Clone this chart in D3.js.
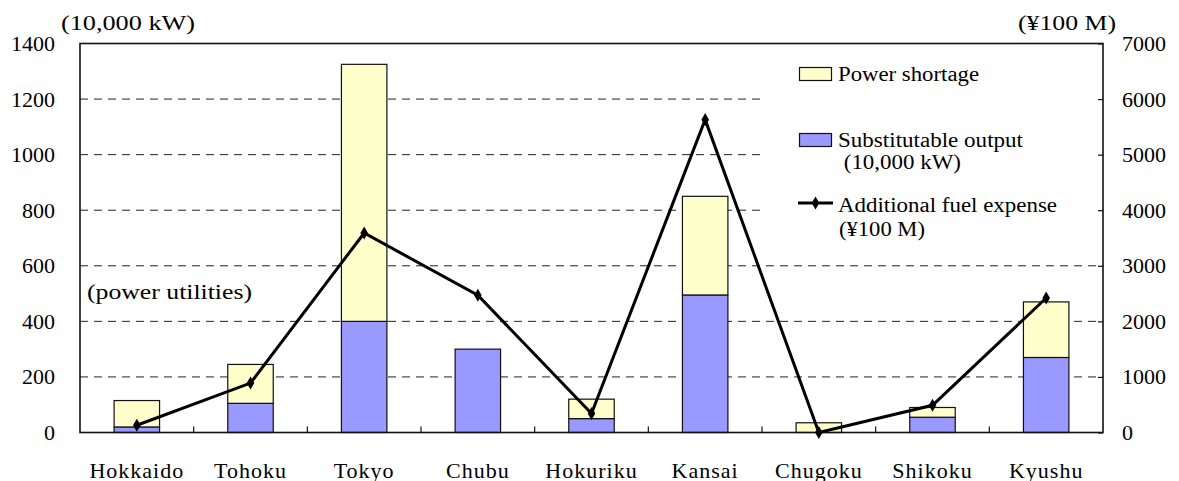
<!DOCTYPE html>
<html>
<head>
<meta charset="utf-8">
<script src="https://cdn.jsdelivr.net/npm/d3@7"></script>
<style>
  html, body { margin: 0; padding: 0; background: #fff; }
  svg text { font-family: "Liberation Serif", "Times New Roman", serif; fill: #000; }
</style>
</head>
<body>
<svg id="chart" width="1179" height="481"></svg>
<script>
// Regional utilities
const categories = ["Hokkaido", "Tohoku", "Tokyo", "Chubu", "Hokuriku", "Kansai", "Chugoku", "Shikoku", "Kyushu"];
// Substitutable output (10,000 kW)
const substitutable = [20, 105, 400, 300, 50, 495, 0, 55, 270];
// Power shortage (10,000 kW), stacked on top of substitutable output
const shortage = [95, 140, 925, 0, 70, 355, 35, 35, 200];
// Additional fuel expense (¥100 M)
const fuelExpense = [130, 890, 3590, 2470, 340, 5630, 0, 490, 2420];

const leftTicks = [0, 200, 400, 600, 800, 1000, 1200, 1400];
const rightTicks = [0, 1000, 2000, 3000, 4000, 5000, 6000, 7000];

const leftUnit = "(10,000 kW)";
const rightUnit = "(¥100 M)";
const noteText = "(power utilities)";
const legendShortage = "Power shortage";
const legendSubst = ["Substitutable output", " (10,000 kW)"];
const legendFuel = ["Additional fuel expense", "(¥100 M)"];

const colors = { shortage: "#FFFFCC", subst: "#9999FF" };
const serif = "'Liberation Serif', 'Times New Roman', serif";

const svg = d3.select("#chart");
const plot = { left: 80, right: 1103, top: 43.5, bottom: 432.5 };

const x = d3.scaleBand()
  .domain(categories)
  .range([plot.left, plot.right])
  .paddingInner(0.6)
  .paddingOuter(0.3);

const yL = d3.scaleLinear().domain([0, 1400]).range([plot.bottom, plot.top]);
const yR = d3.scaleLinear().domain([0, 7000]).range([plot.bottom, plot.top]);

// Dashed gridlines at the left-axis ticks
svg.append("g")
  .selectAll("line")
  .data(leftTicks.filter(t => t > 0 && t < 1400))
  .join("line")
  .attr("x1", plot.left)
  .attr("x2", plot.right)
  .attr("y1", d => yL(d))
  .attr("y2", d => yL(d))
  .attr("stroke", "#222")
  .attr("stroke-width", 1)
  .attr("stroke-dasharray", "8,6");

// Legend backdrop hides the gridlines behind it
svg.append("rect")
  .attr("x", 760).attr("y", 52)
  .attr("width", plot.right - 762).attr("height", 198)
  .attr("fill", "#fff");

// Stacked bars
const rows = categories.map((c, i) => ({ c, s: substitutable[i], p: shortage[i] }));
const bars = svg.append("g");
bars.selectAll("rect.subst")
  .data(rows.filter(d => d.s > 0))
  .join("rect")
  .attr("class", "subst")
  .attr("x", d => x(d.c))
  .attr("width", x.bandwidth())
  .attr("y", d => yL(d.s))
  .attr("height", d => yL(0) - yL(d.s))
  .attr("fill", colors.subst)
  .attr("stroke", "#111")
  .attr("stroke-width", 1.2);
bars.selectAll("rect.short")
  .data(rows.filter(d => d.p > 0))
  .join("rect")
  .attr("class", "short")
  .attr("x", d => x(d.c))
  .attr("width", x.bandwidth())
  .attr("y", d => yL(d.s + d.p))
  .attr("height", d => yL(d.s) - yL(d.s + d.p))
  .attr("fill", colors.shortage)
  .attr("stroke", "#111")
  .attr("stroke-width", 1.2);

// Plot frame
svg.append("rect")
  .attr("x", plot.left).attr("y", plot.top)
  .attr("width", plot.right - plot.left).attr("height", plot.bottom - plot.top)
  .attr("fill", "none")
  .attr("stroke", "#111")
  .attr("stroke-width", 1.6);

// Left axis labels
const axisL = d3.axisLeft(yL).tickValues(leftTicks).tickFormat(d3.format("d")).tickSize(0).tickPadding(25);
const gL = svg.append("g").attr("transform", `translate(${plot.left},0)`).call(axisL);
gL.attr("font-family", serif);
gL.select(".domain").remove();
gL.selectAll("text").attr("font-size", 22).style("font-family", serif);

// Right axis with inward ticks
const axisR = d3.axisRight(yR).tickValues(rightTicks).tickFormat(d3.format("d")).tickSize(-5).tickPadding(19);
const gR = svg.append("g").attr("transform", `translate(${plot.right},0)`).call(axisR);
gR.attr("font-family", serif);
gR.select(".domain").remove();
gR.selectAll("line").attr("stroke", "#111").attr("stroke-width", 1.2);
gR.selectAll("text").attr("font-size", 22).style("font-family", serif);

// Category separators on the x axis (inward ticks)
const bounds = d3.range(1, categories.length).map(i => plot.left + i * x.step());
svg.append("g").selectAll("line")
  .data(bounds)
  .join("line")
  .attr("x1", d => d).attr("x2", d => d)
  .attr("y1", plot.bottom).attr("y2", plot.bottom - 6)
  .attr("stroke", "#111").attr("stroke-width", 1.2);

// Category labels
const axisB = d3.axisBottom(x).tickSize(0).tickPadding(30);
const gB = svg.append("g").attr("transform", `translate(0,${plot.bottom})`).call(axisB);
gB.attr("font-family", serif);
gB.select(".domain").remove();
gB.selectAll("text")
  .attr("font-size", 22)
  .attr("letter-spacing", 1)
  .style("font-family", serif);

// Fuel expense line with diamond markers
const line = d3.line()
  .x((d, i) => x(categories[i]) + x.bandwidth() / 2)
  .y(d => yR(d));
svg.append("path")
  .datum(fuelExpense)
  .attr("d", line)
  .attr("fill", "none")
  .attr("stroke", "#000")
  .attr("stroke-width", 3)
  .attr("stroke-linejoin", "miter");
const diamond = d3.symbol().type(d3.symbolDiamond).size(50);
svg.append("g").selectAll("path")
  .data(fuelExpense)
  .join("path")
  .attr("d", diamond)
  .attr("transform", (d, i) => `translate(${x(categories[i]) + x.bandwidth() / 2},${yR(d)})`)
  .attr("fill", "#000");

// Unit labels
svg.append("text").attr("x", 61).attr("y", 30).attr("font-size", 22)
  .attr("textLength", 134).attr("lengthAdjust", "spacingAndGlyphs").text(leftUnit);
svg.append("text").attr("x", 1018).attr("y", 30).attr("font-size", 22)
  .attr("textLength", 98).attr("lengthAdjust", "spacingAndGlyphs").text(rightUnit);

// Note inside the plot
svg.append("text").attr("x", 87).attr("y", 299).attr("font-size", 22)
  .attr("textLength", 165).attr("lengthAdjust", "spacingAndGlyphs").text(noteText);

// Legend
const lg = svg.append("g");
lg.append("rect").attr("x", 799.5).attr("y", 67.5).attr("width", 32).attr("height", 13)
  .attr("fill", colors.shortage).attr("stroke", "#111").attr("stroke-width", 1.2);
lg.append("text").attr("x", 838).attr("y", 81).attr("font-size", 20)
  .attr("textLength", 141).attr("lengthAdjust", "spacingAndGlyphs").text(legendShortage);

lg.append("rect").attr("x", 799.5).attr("y", 133.5).attr("width", 32).attr("height", 13)
  .attr("fill", colors.subst).attr("stroke", "#111").attr("stroke-width", 1.2);
lg.append("text").attr("x", 838).attr("y", 147).attr("font-size", 20)
  .attr("textLength", 185).attr("lengthAdjust", "spacingAndGlyphs").text(legendSubst[0]);
lg.append("text").attr("x", 838).attr("y", 169).attr("font-size", 20)
  .attr("textLength", 123).attr("lengthAdjust", "spacingAndGlyphs")
  .style("white-space", "pre").text(legendSubst[1]);

lg.append("line").attr("x1", 798).attr("x2", 833).attr("y1", 203).attr("y2", 203)
  .attr("stroke", "#000").attr("stroke-width", 3);
lg.append("path").attr("d", diamond).attr("transform", "translate(815.5,203)").attr("fill", "#000");
lg.append("text").attr("x", 838).attr("y", 212).attr("font-size", 20)
  .attr("textLength", 219).attr("lengthAdjust", "spacingAndGlyphs").text(legendFuel[0]);
lg.append("text").attr("x", 839).attr("y", 236).attr("font-size", 20)
  .attr("textLength", 86).attr("lengthAdjust", "spacingAndGlyphs").text(legendFuel[1]);
</script>
</body>
</html>
